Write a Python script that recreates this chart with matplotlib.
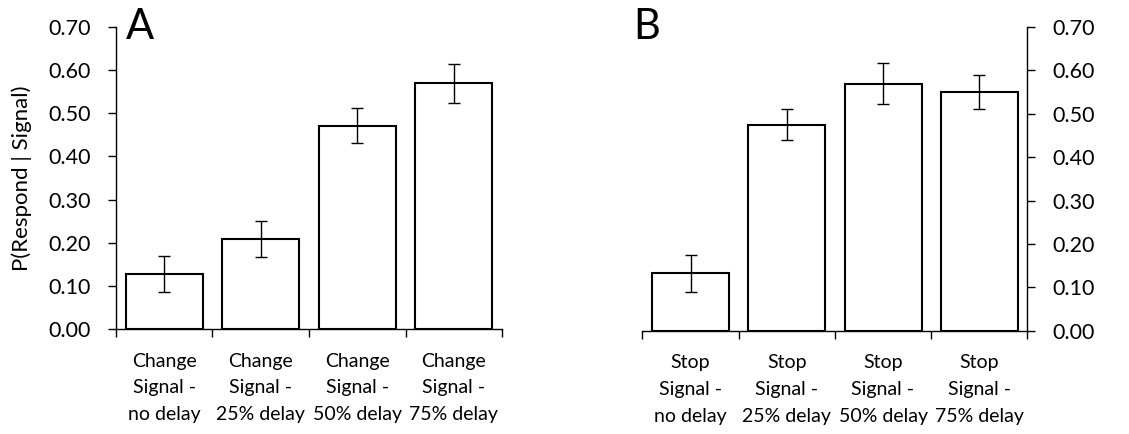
import numpy as np
import matplotlib.pyplot as plt

plt.rcParams['font.family'] = ['Lato', 'DejaVu Sans']

change_labels = ['Change\nSignal -\nno delay', 'Change\nSignal -\n25% delay',
                 'Change\nSignal -\n50% delay', 'Change\nSignal -\n75% delay']
change_vals = [0.127, 0.209, 0.471, 0.569]
change_err = [0.041, 0.042, 0.040, 0.046]

stop_labels = ['Stop\nSignal -\nno delay', 'Stop\nSignal -\n25% delay',
               'Stop\nSignal -\n50% delay', 'Stop\nSignal -\n75% delay']
stop_vals = [0.132, 0.475, 0.569, 0.551]
stop_err = [0.042, 0.036, 0.047, 0.039]

yticks = [0.0, 0.1, 0.2, 0.3, 0.4, 0.5, 0.6, 0.7]

fig = plt.figure(figsize=(11.29, 4.34), dpi=100)
axA = fig.add_axes([0.1027, 0.242, 0.342, 0.696])
axB = fig.add_axes([0.569, 0.238, 0.341, 0.700])


def draw(ax, labels, vals, err, side):
    x = np.arange(len(vals))
    ax.bar(x, vals, width=0.8, color='white', edgecolor='black', linewidth=1.5)
    ax.errorbar(x, vals, yerr=err, fmt='none', ecolor='black', elinewidth=1,
                capsize=4.5, capthick=1)
    ax.set_xlim(-0.5, len(vals) - 0.5)
    ax.set_ylim(0, 0.7)
    ax.set_yticks(yticks)
    ax.set_yticklabels(['%.2f' % t for t in yticks])
    ax.set_xticks(x)
    ax.set_xticklabels(labels, linespacing=1.7)
    ax.set_xticks(np.arange(-0.5, len(vals), 1.0), minor=True)
    ax.tick_params(axis='x', which='major', length=0, pad=17, labelsize=14)
    ax.tick_params(axis='x', which='minor', length=6, width=1)
    ax.tick_params(axis='y', length=6, width=1, pad=12, labelsize=15.5)
    for s in ['top', 'left', 'right']:
        ax.spines[s].set_visible(False)
    ax.spines['bottom'].set_linewidth(1)
    if side == 'left':
        ax.spines['left'].set_visible(True)
        ax.spines['left'].set_linewidth(1)
    else:
        ax.spines['right'].set_visible(True)
        ax.spines['right'].set_linewidth(1)
        ax.yaxis.tick_right()


draw(axA, change_labels, change_vals, change_err, 'left')
draw(axB, stop_labels, stop_vals, stop_err, 'right')

axA.set_ylabel('P(Respond | Signal)', fontsize=16, labelpad=12)

fig.text(126 / 1129, 1 - 27 / 434, 'A', fontsize=30, va='center', ha='left')
fig.text(633 / 1129, 1 - 27 / 434, 'B', fontsize=30, va='center', ha='left')

fig.savefig('out.png', dpi=100)
